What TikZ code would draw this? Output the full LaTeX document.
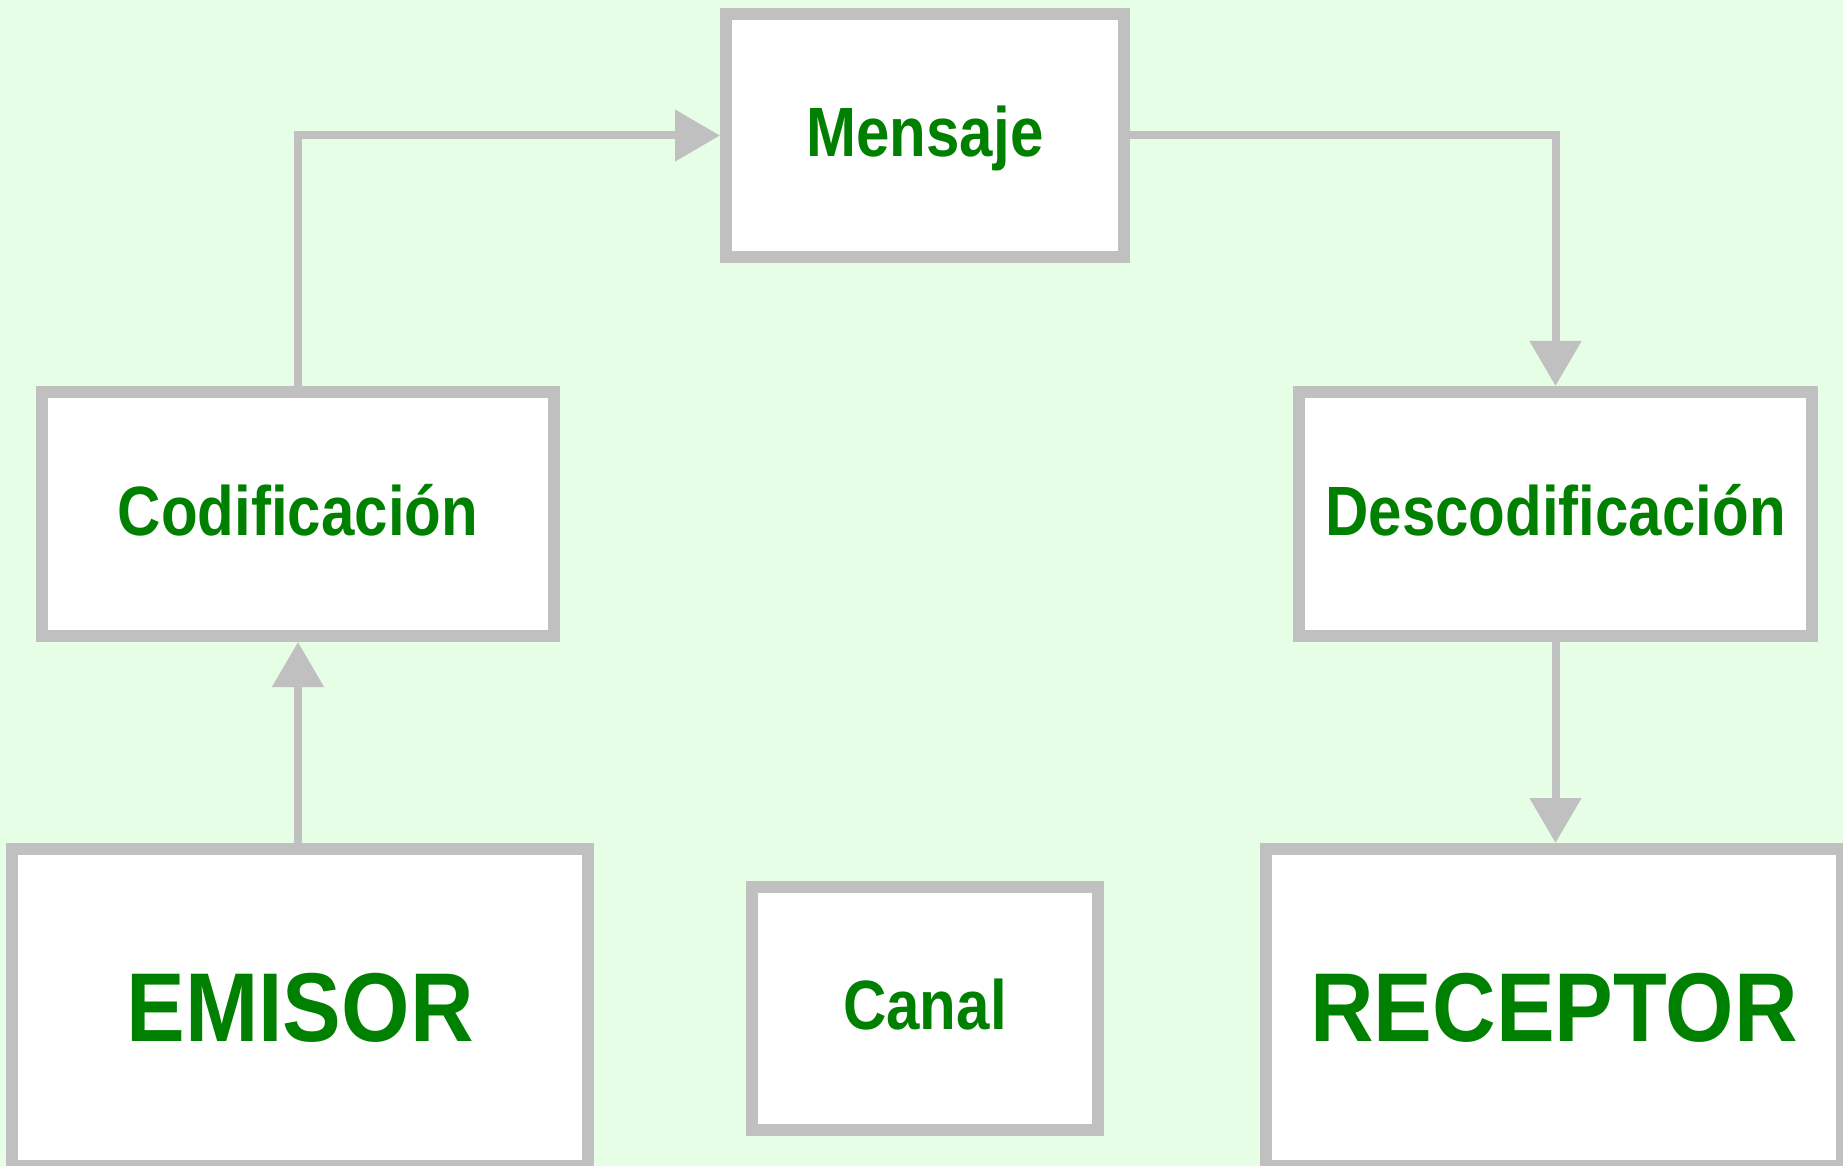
\documentclass[tikz,border=0pt]{standalone}
\usepackage{fontspec}
\newfontfamily\lblsmall[FakeStretch=0.86]{Liberation Sans}
\newfontfamily\lblbig[FakeStretch=0.90]{Liberation Sans}
\usetikzlibrary{arrows.meta}
\definecolor{bgc}{RGB}{230,254,230}
\definecolor{bordc}{RGB}{192,192,192}
\definecolor{txtc}{RGB}{0,128,0}
\tikzset{
  box/.style={draw=bordc, fill=white, line width=6pt, rectangle, inner sep=0pt, text=txtc, align=center},
  smallbox/.style={box, font=\lblsmall\bfseries\fontsize{34.9pt}{40pt}\selectfont, text height=25pt, text depth=4pt},
  bigbox/.style={box, font=\lblbig\bfseries\fontsize{48.9pt}{56pt}\selectfont, text height=35pt, text depth=1.5pt},
  conn/.style={draw=bordc, line width=4pt, -{Triangle[length=22.5pt,width=25pt]}}
}
\begin{document}
\begin{tikzpicture}[x=0.5pt, y=-0.5pt]
\fill[bgc] (0,0) rectangle (1843,1166);
\useasboundingbox (0,0) rectangle (1843,1166);
\clip (0,0) rectangle (1843,1166);
\node[smallbox, minimum width=199pt, minimum height=121.5pt] (men) at (925,135.5) {Mensaje};
\node[smallbox, minimum width=256pt, minimum height=122pt] (cod) at (298,514) {Codificación};
\node[smallbox, minimum width=256.5pt, minimum height=122pt] (desc) at (1555.5,514) {Descodificación};
\node[bigbox, minimum width=288pt, minimum height=158.5pt] (emi) at (300,1007.5) {EMISOR};
\node[smallbox, minimum width=173pt, minimum height=121.5pt] (can) at (925,1008.5) {Canal};
\node[bigbox, minimum width=288pt, minimum height=158.5pt] (rec) at (1554,1007.5) {RECEPTOR};
\draw[conn] (emi.north -| cod.south) -- (cod.south);
\draw[conn] (cod.north) |- (men.west);
\draw[conn] (men.east) -| (desc.north);
\draw[conn] (desc.south) -- (desc.south |- rec.north);
\end{tikzpicture}
\end{document}
